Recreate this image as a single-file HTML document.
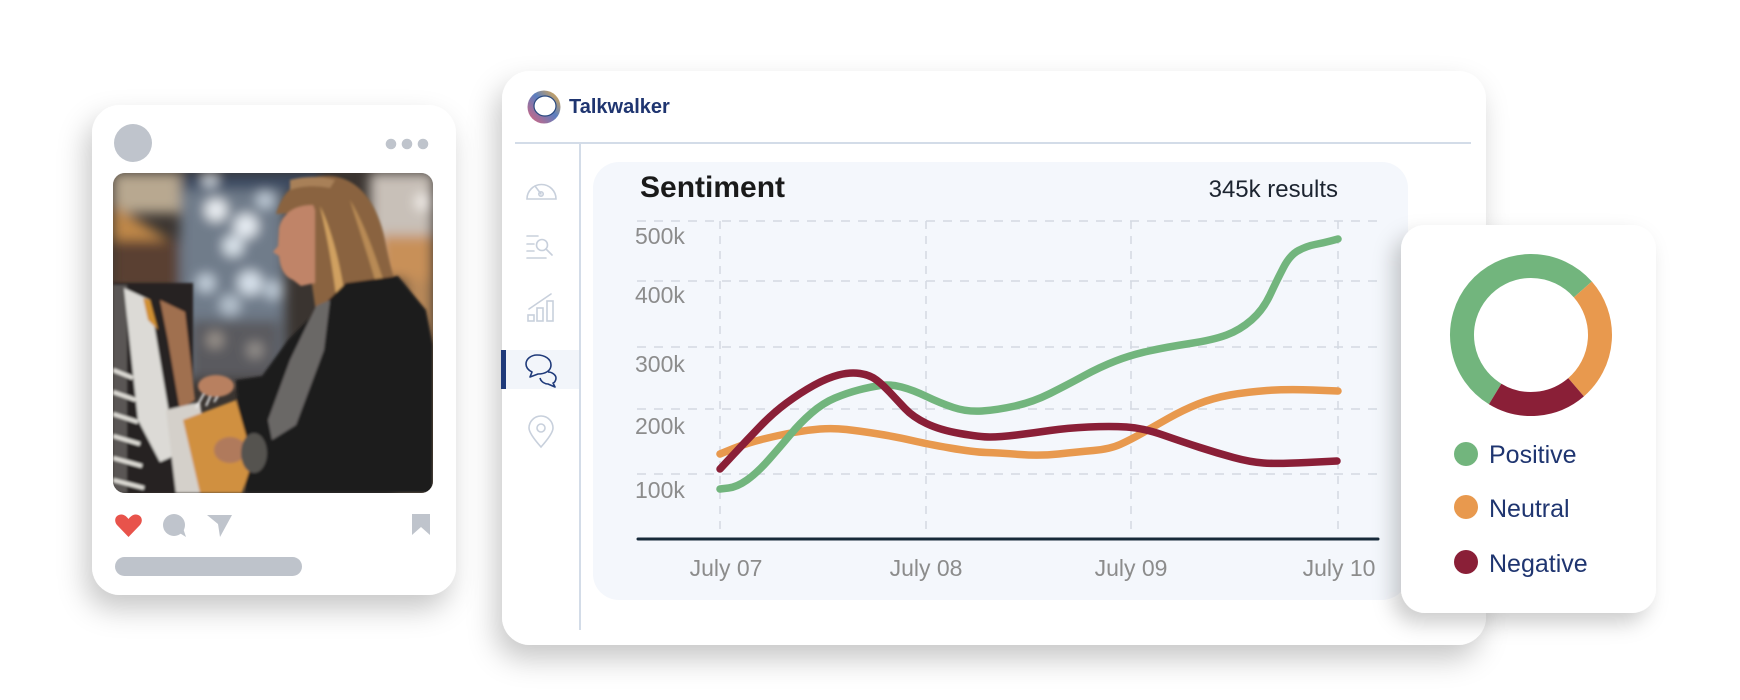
<!DOCTYPE html>
<html>
<head>
<meta charset="utf-8">
<style>
  html,body{margin:0;padding:0;background:#fff;}
  body{width:1740px;height:700px;overflow:hidden;}
  svg{display:block;font-family:"Liberation Sans",sans-serif;}
</style>
</head>
<body>
<svg width="1740" height="700" viewBox="0 0 1740 700" xmlns="http://www.w3.org/2000/svg">
  <defs>
    <filter id="sh" x="-20%" y="-20%" width="140%" height="150%">
      <feDropShadow dx="-6" dy="14" stdDeviation="14" flood-color="#000" flood-opacity="0.22"/>
    </filter>
    <filter id="sh2" x="-30%" y="-20%" width="160%" height="150%">
      <feDropShadow dx="-8" dy="10" stdDeviation="10" flood-color="#000" flood-opacity="0.2"/>
    </filter>
    <filter id="blurBig" x="-20%" y="-20%" width="140%" height="140%"><feGaussianBlur stdDeviation="6"/></filter>
    <filter id="blurSm" x="-10%" y="-10%" width="120%" height="120%"><feGaussianBlur stdDeviation="1.3"/></filter>
    <clipPath id="pc"><rect x="113" y="173" width="320" height="320" rx="12"/></clipPath>
    <linearGradient id="lg" x1="1" y1="0" x2="0" y2="1">
      <stop offset="0" stop-color="#f5b13d"/>
      <stop offset="0.45" stop-color="#5b7fc0"/>
      <stop offset="1" stop-color="#e0627a"/>
    </linearGradient>
  </defs>

  <!-- ============ PHONE CARD ============ -->
  <rect x="92" y="105" width="364" height="490" rx="28" fill="#fff" filter="url(#sh)"/>
  <circle cx="133" cy="143" r="19" fill="#bfc4cc"/>
  <circle cx="391" cy="144" r="5.3" fill="#bfc4cc"/>
  <circle cx="407" cy="144" r="5.3" fill="#bfc4cc"/>
  <circle cx="423" cy="144" r="5.3" fill="#bfc4cc"/>

  <!-- photo -->
  <g clip-path="url(#pc)">
    <rect x="113" y="173" width="320" height="320" fill="#3a3430"/>
    <g filter="url(#blurBig)">
      <!-- left shelf area -->
      <rect x="113" y="173" width="70" height="40" fill="#b8a890"/>
      <polygon points="113,205 185,250 185,275 113,240" fill="#c08848"/>
      <rect x="113" y="240" width="70" height="50" fill="#5a4030"/>
      <!-- top band -->
      <rect x="180" y="173" width="140" height="20" fill="#3a4a60"/>
      <!-- center bokeh -->
      <rect x="180" y="190" width="105" height="190" fill="#707c8a"/>
      <rect x="190" y="320" width="90" height="60" fill="#5a5a5e"/>
      <circle cx="216" cy="210" r="11" fill="#eef2f6"/>
      <circle cx="246" cy="226" r="12" fill="#e8eef4"/>
      <circle cx="233" cy="246" r="10" fill="#dfe8f0"/>
      <circle cx="250" cy="283" r="12" fill="#d8e2ec"/>
      <circle cx="206" cy="283" r="9" fill="#c8d4e0"/>
      <circle cx="230" cy="305" r="10" fill="#b8c4d0"/>
      <circle cx="273" cy="290" r="9" fill="#c0ccd8"/>
      <circle cx="210" cy="180" r="7" fill="#d8e0e8"/>
      <circle cx="265" cy="200" r="8" fill="#c8d4e0"/>
      <circle cx="215" cy="340" r="8" fill="#a09890"/>
      <circle cx="255" cy="350" r="8" fill="#9a9490"/>
      <!-- right background -->
      <rect x="370" y="173" width="63" height="100" fill="#c8c0b8"/>
      <circle cx="423" cy="202" r="8" fill="#f4f0ec"/>
      <rect x="380" y="235" width="53" height="45" fill="#c89058"/>
      <rect x="405" y="280" width="28" height="213" fill="#b88858"/>
      <rect x="395" y="465" width="38" height="28" fill="#c0a080"/>
    </g>
    <g filter="url(#blurSm)">
      <!-- left clothes -->
      <rect x="113" y="283" width="80" height="210" fill="#262220"/>
      <rect x="113" y="285" width="14" height="208" fill="#5a5654"/>
      <polygon points="124,288 150,300 176,455 160,462 138,420" fill="#dcdad6"/>
      <polygon points="160,300 185,312 195,400 180,410 168,340" fill="#a07050"/>
      <polygon points="143,298 150,300 158,330 148,320" fill="#d09030"/>
      <g stroke="#e0ded8" stroke-width="4">
        <line x1="113" y1="370" x2="133" y2="378"/>
        <line x1="113" y1="392" x2="136" y2="400"/>
        <line x1="113" y1="414" x2="138" y2="422"/>
        <line x1="113" y1="436" x2="140" y2="444"/>
        <line x1="113" y1="458" x2="142" y2="466"/>
        <line x1="113" y1="480" x2="144" y2="488"/>
      </g>
      <!-- hair -->
      <path d="M276,214 C284,186 304,175 330,176 C360,178 378,205 385,240 C390,265 395,285 400,294 L352,302 L336,326 L318,326 L312,285 L313,212 Z" fill="#8a6440"/>
      <path d="M320,206 C332,230 342,270 346,306 L338,312 C334,275 328,240 320,206 Z" fill="#d0a060"/>
      <path d="M350,200 C365,225 375,255 385,285 L378,290 C370,262 360,232 350,200 Z" fill="#b88a54"/>
      <path d="M290,180 C305,176 320,176 335,180 L330,188 C315,185 300,186 290,190 Z" fill="#a88058"/>
      <!-- face -->
      <path d="M313,205 C296,205 283,212 279,228 L278,246 L273,252 L279,256 C280,266 283,276 293,280 L301,286 L315,283 L315,210 Z" fill="#c08468"/>
      <!-- jacket -->
      <polygon points="346,283 398,276 426,310 433,345 433,493 246,493 240,440 236,380 262,376 288,340 310,318" fill="#1c1a1c"/>
      <!-- scarf -->
      <polygon points="316,306 330,300 324,350 296,425 272,440 268,420 290,360" fill="#6a6866"/>
      <!-- bags -->
      <polygon points="166,410 200,402 212,493 176,493" fill="#d4d0ca"/>
      <polygon points="183,420 236,400 253,460 242,493 200,493" fill="#d09040"/>
      <line x1="196" y1="408" x2="206" y2="390" stroke="#e8e8e8" stroke-width="2"/>
      <line x1="206" y1="406" x2="214" y2="388" stroke="#e8e8e8" stroke-width="2"/>
      <line x1="214" y1="402" x2="222" y2="390" stroke="#e8e8e8" stroke-width="2"/>
      <!-- hands -->
      <ellipse cx="216" cy="386" rx="18" ry="11" fill="#b88060"/>
      <ellipse cx="230" cy="450" rx="16" ry="13" fill="#b07a5c"/>
      <ellipse cx="254" cy="453" rx="13" ry="20" fill="#555250"/>
    </g>
  </g>

  <!-- phone action icons -->
  <path d="M128.5,537 L117,525 C113,520 116,514 122,514.5 C125,515 127,517 128.5,519 C130,517 132,515 135,514.5 C141,514 144,520 140,525 Z" fill="#e8534b"/>
  <circle cx="174" cy="525" r="11" fill="#bfc4cc"/>
  <polygon points="178,532 186,537 183,528" fill="#bfc4cc"/>
  <polygon points="207,515 232,515 220,537 218,524" fill="#bfc4cc"/>
  <path d="M412,514 H430 V535 L421,527 L412,535 Z" fill="#bfc4cc"/>
  <rect x="115" y="557" width="187" height="19" rx="9.5" fill="#bec3cb"/>

  <!-- ============ MAIN CARD ============ -->
  <rect x="502" y="71" width="984" height="574" rx="28" fill="#fff" filter="url(#sh)"/>

  <!-- logo -->
  <g transform="translate(544,107)">
    <circle r="16.5" fill="url(#lg)"/>
    <ellipse cx="1" cy="-1" rx="11" ry="10" fill="#fff" stroke="#2a4a80" stroke-width="1.2"/>
  </g>
  <text x="569" y="113" font-size="20" font-weight="bold" fill="#1f3570">Talkwalker</text>

  <line x1="515" y1="143" x2="1471" y2="143" stroke="#d3dce8" stroke-width="2"/>
  <line x1="580" y1="143" x2="580" y2="630" stroke="#d3dce8" stroke-width="2"/>

  <!-- sidebar -->
  <rect x="501" y="350" width="78" height="39" fill="#f2f5fa"/>
  <rect x="501" y="350" width="5" height="39" fill="#1f3a7a"/>
  <g fill="none" stroke="#c8d0dc" stroke-width="1.6" stroke-linecap="round">
    <path d="M527,199 A14.5,14.5 0 1 1 556,199 Z"/>
    <line x1="541" y1="194" x2="535" y2="186"/>
    <circle cx="541" cy="194" r="2.2"/>
    <line x1="527" y1="236" x2="538" y2="236"/>
    <line x1="527" y1="244" x2="534" y2="244"/>
    <line x1="527" y1="251" x2="534" y2="251"/>
    <line x1="527" y1="258" x2="546" y2="258"/>
    <circle cx="542" cy="245" r="5.5"/>
    <line x1="546" y1="249" x2="552" y2="255"/>
    <rect x="528" y="315" width="6" height="6"/>
    <rect x="537" y="308" width="6" height="13"/>
    <rect x="547" y="301" width="6" height="20"/>
    <line x1="529" y1="309" x2="551" y2="294"/>
  </g>
  <g fill="none" stroke="#1f3a7a" stroke-width="1.6" stroke-linejoin="round">
    <path d="M537,355 C545,355 551,359 551,365 C551,371 545,374 538,374 L530,377 L532,372 C528,370 526,367 526,364 C526,359 531,355 537,355 Z"/>
    <path d="M548,372 C552,372 556,375 556,378 C556,381 554,383 553,383 L555,387 L548,384 C545,384 541,382 540,378"/>
  </g>
  <g fill="none" stroke="#c8d0dc" stroke-width="1.6">
    <path d="M541,447 C533,438 529,432 529,428 A12,12 0 0 1 553,428 C553,432 549,438 541,447 Z"/>
    <circle cx="541" cy="428" r="4"/>
  </g>

  <!-- chart panel -->
  <rect x="593" y="162" width="815" height="438" rx="26" fill="#f4f7fc"/>
  <text x="640" y="197" font-size="30" font-weight="bold" fill="#1a1a1a">Sentiment</text>
  <text x="1338" y="197" font-size="24" fill="#1c2430" text-anchor="end">345k results</text>

  <g stroke="#d3d9e2" stroke-width="1.5" stroke-dasharray="9 8">
    <line x1="637" y1="221" x2="1379" y2="221"/>
    <line x1="637" y1="281" x2="1379" y2="281"/>
    <line x1="637" y1="347" x2="1379" y2="347"/>
    <line x1="637" y1="409" x2="1379" y2="409"/>
    <line x1="637" y1="474" x2="1379" y2="474"/>
  </g>
  <g stroke="#d3d9e2" stroke-width="1.5" stroke-dasharray="8 7">
    <line x1="720" y1="221" x2="720" y2="534"/>
    <line x1="926" y1="221" x2="926" y2="534"/>
    <line x1="1131" y1="221" x2="1131" y2="534"/>
    <line x1="1338" y1="221" x2="1338" y2="534"/>
  </g>
  <line x1="638" y1="539" x2="1378" y2="539" stroke="#172a3a" stroke-width="3" stroke-linecap="round"/>

  <g font-size="23" fill="#8c8c8c">
    <text x="635" y="244">500k</text>
    <text x="635" y="303">400k</text>
    <text x="635" y="372">300k</text>
    <text x="635" y="434">200k</text>
    <text x="635" y="498">100k</text>
  </g>
  <g font-size="23" fill="#8c8c8c" text-anchor="middle">
    <text x="726" y="576">July 07</text>
    <text x="926" y="576">July 08</text>
    <text x="1131" y="576">July 09</text>
    <text x="1339" y="576">July 10</text>
  </g>

  <g fill="none" stroke-width="7.5" stroke-linecap="round" stroke-linejoin="round">
    <path stroke="#e8994e" d="M720,454 L733.5,448.5 Q747,443 763.5,439 Q780,435 793.5,432.5 Q807,430 820,429 Q833,428 846.5,429.5 Q860,431 878.5,434 Q897,437 912,440.5 Q927,444 950,448 Q973,452 986.5,452.5 Q1000,453 1020,454.5 Q1040,456 1058.5,454 Q1077,452 1093.5,450.5 Q1110,449 1120,444.5 Q1130,440 1141.5,433.5 Q1153,427 1168,418.5 Q1183,410 1198,404 Q1213,398 1230,395 Q1247,392 1267,390.5 Q1287,389 1312.5,390 L1338,391"/>
    <path stroke="#72b57d" d="M720,489 L728.5,488 Q737,487 747,480 Q757,473 768.5,460 Q780,447 790,435 Q800,423 811.5,413 Q823,403 835,398 Q847,393 858.5,390 Q870,387 880,385.5 Q890,384 901.5,387 Q913,390 926.5,396.5 Q940,403 953.5,407.5 Q967,412 982,411 Q997,410 1015,406 Q1033,402 1050,393.5 Q1067,385 1083.5,376 Q1100,367 1115.5,361 Q1131,355 1149,351 Q1167,347 1190,343.5 Q1213,340 1226.5,335 Q1240,330 1251.5,320 Q1263,310 1270,295 Q1277,280 1283.5,267.5 Q1290,255 1298.5,250.5 Q1307,246 1315,244.5 Q1323,243 1330.5,241 L1338,239"/>
    <path stroke="#8a1f37" d="M720,469 L733.5,454.5 Q747,440 760,426.5 Q773,413 786.5,403 Q800,393 813.5,385.5 Q827,378 838.5,375 Q850,372 860,373.5 Q870,375 876.5,380 Q883,385 890,392.5 Q897,400 905,408.5 Q913,417 926.5,423.5 Q940,430 960,433.5 Q980,437 990,437 Q1000,437 1016.5,435 Q1033,433 1050,430.5 Q1067,428 1088.5,427 Q1110,426 1126.5,427 Q1143,428 1163,435 Q1183,442 1200,447.5 Q1217,453 1233.5,457.5 Q1250,462 1263.5,463 Q1277,464 1307,462.5 L1337,461"/>
  </g>

  <!-- ============ DONUT CARD ============ -->
  <rect x="1401" y="225" width="255" height="388" rx="24" fill="#fff" filter="url(#sh2)"/>
  <g fill="none" stroke-width="24">
    <path stroke="#72b57d" d="M1495.15,393.95 A69,69 0 1 1 1582.84,289.46"/>
    <path stroke="#e8994e" d="M1582.84,289.46 A69,69 0 0 1 1576.08,387.23"/>
    <path stroke="#8a1f37" d="M1576.08,387.23 A69,69 0 0 1 1495.15,393.95"/>
  </g>
  <circle cx="1466" cy="454" r="12" fill="#72b57d"/>
  <circle cx="1466" cy="507" r="12" fill="#e8994e"/>
  <circle cx="1466" cy="562" r="12" fill="#8a1f37"/>
  <g font-size="25" fill="#1f3570">
    <text x="1489" y="463">Positive</text>
    <text x="1489" y="517">Neutral</text>
    <text x="1489" y="572">Negative</text>
  </g>
</svg>
</body>
</html>
